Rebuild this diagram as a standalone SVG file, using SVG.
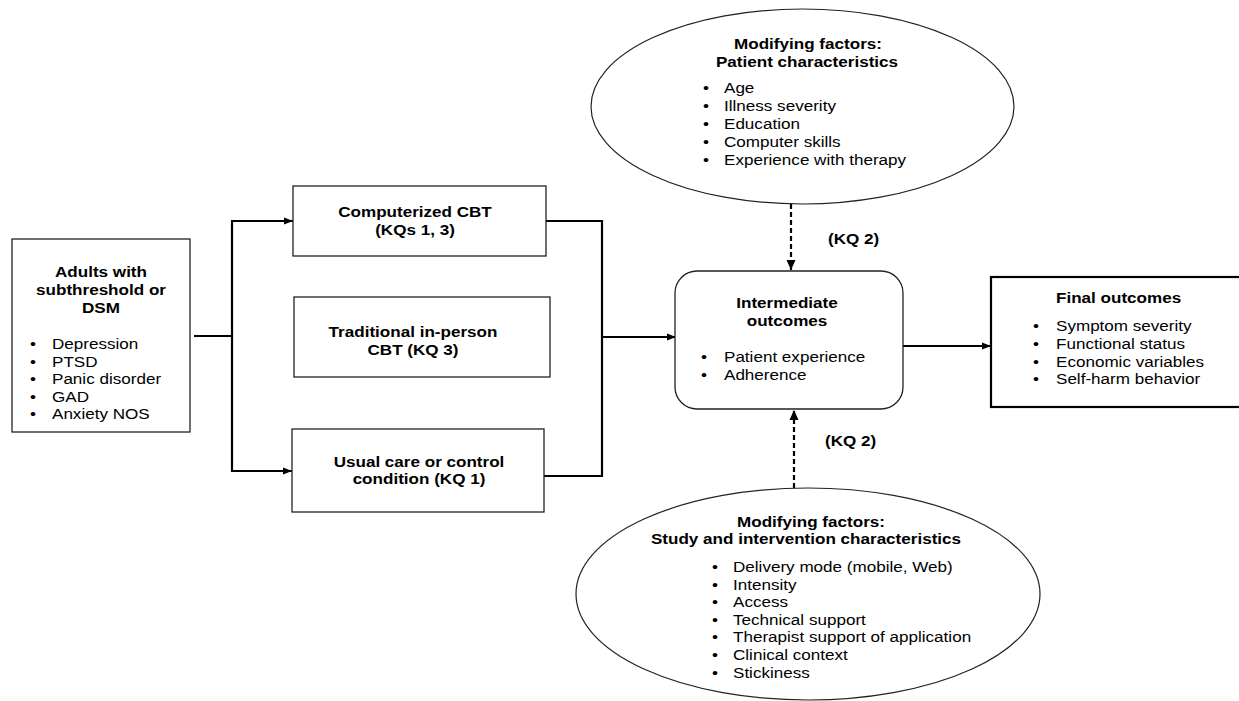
<svg xmlns="http://www.w3.org/2000/svg" width="1239" height="701" viewBox="0 0 1239 701">
<defs>
<style>
.box{fill:#fff;stroke:#222;stroke-width:1.3}
.thick{fill:#fff;stroke:#000;stroke-width:2.2}
.ell{fill:#fff;stroke:#222;stroke-width:1.2}
.con{fill:none;stroke:#000;stroke-width:2.2}
.dash{fill:none;stroke:#000;stroke-width:2.2;stroke-dasharray:5 3}
text{font-family:"Liberation Sans",Arial,sans-serif;font-size:14.6px;fill:#000}
.b{font-weight:bold}
.c{text-anchor:middle}
</style>
<marker id="arr" viewBox="0 0 10 10" refX="10" refY="5" markerWidth="9" markerHeight="9" markerUnits="userSpaceOnUse" orient="auto">
<path d="M0,1 L10,5 L0,9 z" fill="#000"/>
</marker>
<marker id="arrd" viewBox="0 0 10 10" refX="10" refY="5" markerWidth="10" markerHeight="10" markerUnits="userSpaceOnUse" orient="auto">
<path d="M0,0.5 L10,5 L0,9.5 z" fill="#000"/>
</marker>
</defs>
<rect width="1239" height="701" fill="#fff"/>

<g id="connectors">
<path class="con" d="M194,336 H232"/>
<path class="con" d="M232,221 V471"/>
<path class="con" d="M231,221 H293" marker-end="url(#arr)"/>
<path class="con" d="M231,471 H292" marker-end="url(#arr)"/>
<path class="con" d="M546,221 H602 V476 H544"/>
<path class="con" d="M602,337 H676" marker-end="url(#arr)"/>
<path class="con" d="M903,346 H991" marker-end="url(#arr)"/>
<path class="dash" d="M791,204 V270" marker-end="url(#arrd)"/>
<path class="dash" d="M794,488 V410" marker-end="url(#arrd)"/>
</g>

<g id="population">
<rect class="box" x="12" y="239" width="178" height="193"/>
<text class="b c" transform="translate(101 277) scale(1.17 1)">Adults with</text>
<text class="b c" transform="translate(101 295) scale(1.17 1)">subthreshold or</text>
<text class="b c" transform="translate(101 313) scale(1.17 1)">DSM</text>
<text transform="translate(30 349) scale(1.17 1)">•</text>
<text transform="translate(52 349) scale(1.17 1)">Depression</text>
<text transform="translate(30 366.5) scale(1.17 1)">•</text>
<text transform="translate(52 366.5) scale(1.17 1)">PTSD</text>
<text transform="translate(30 384) scale(1.17 1)">•</text>
<text transform="translate(52 384) scale(1.17 1)">Panic disorder</text>
<text transform="translate(30 401.5) scale(1.17 1)">•</text>
<text transform="translate(52 401.5) scale(1.17 1)">GAD</text>
<text transform="translate(30 419) scale(1.17 1)">•</text>
<text transform="translate(52 419) scale(1.17 1)">Anxiety NOS</text>
</g>

<g id="computerized-cbt">
<rect class="box" x="293" y="186" width="253" height="70"/>
<text class="b c" transform="translate(415 217) scale(1.17 1)">Computerized CBT</text>
<text class="b c" transform="translate(415 235) scale(1.17 1)">(KQs 1, 3)</text>
</g>

<g id="traditional-cbt">
<rect class="box" x="294" y="297" width="256" height="80"/>
<text class="b c" transform="translate(413 337) scale(1.17 1)">Traditional in-person</text>
<text class="b c" transform="translate(413 355) scale(1.17 1)">CBT (KQ 3)</text>
</g>

<g id="usual-care">
<rect class="box" x="292" y="429" width="252" height="83"/>
<text class="b c" transform="translate(419 467) scale(1.17 1)">Usual care or control</text>
<text class="b c" transform="translate(419 484) scale(1.17 1)">condition (KQ 1)</text>
</g>

<g id="intermediate-outcomes">
<rect class="box" x="675" y="271" width="228" height="138" rx="22" ry="22"/>
<text class="b c" transform="translate(787 308) scale(1.17 1)">Intermediate</text>
<text class="b c" transform="translate(787 326) scale(1.17 1)">outcomes</text>
<text transform="translate(701 362) scale(1.17 1)">•</text>
<text transform="translate(724 362) scale(1.17 1)">Patient experience</text>
<text transform="translate(701 379.5) scale(1.17 1)">•</text>
<text transform="translate(724 379.5) scale(1.17 1)">Adherence</text>
</g>

<g id="final-outcomes">
<rect class="thick" x="991" y="277" width="260" height="130"/>
<text class="b" transform="translate(1056 303) scale(1.17 1)">Final outcomes</text>
<text transform="translate(1033 331) scale(1.17 1)">•</text>
<text transform="translate(1056 331) scale(1.17 1)">Symptom severity</text>
<text transform="translate(1033 349) scale(1.17 1)">•</text>
<text transform="translate(1056 349) scale(1.17 1)">Functional status</text>
<text transform="translate(1033 366.5) scale(1.17 1)">•</text>
<text transform="translate(1056 366.5) scale(1.17 1)">Economic variables</text>
<text transform="translate(1033 384) scale(1.17 1)">•</text>
<text transform="translate(1056 384) scale(1.17 1)">Self-harm behavior</text>
</g>

<g id="patient-characteristics">
<ellipse class="ell" cx="802.5" cy="106.5" rx="211.5" ry="97.5"/>
<text class="b c" transform="translate(808 49) scale(1.17 1)">Modifying factors:</text>
<text class="b c" transform="translate(807 66.5) scale(1.17 1)">Patient characteristics</text>
<text transform="translate(703 93) scale(1.17 1)">•</text>
<text transform="translate(724 93) scale(1.17 1)">Age</text>
<text transform="translate(703 111) scale(1.17 1)">•</text>
<text transform="translate(724 111) scale(1.17 1)">Illness severity</text>
<text transform="translate(703 129) scale(1.17 1)">•</text>
<text transform="translate(724 129) scale(1.17 1)">Education</text>
<text transform="translate(703 147) scale(1.17 1)">•</text>
<text transform="translate(724 147) scale(1.17 1)">Computer skills</text>
<text transform="translate(703 165) scale(1.17 1)">•</text>
<text transform="translate(724 165) scale(1.17 1)">Experience with therapy</text>
</g>

<g id="study-characteristics">
<ellipse class="ell" cx="808" cy="594" rx="232" ry="106"/>
<text class="b c" transform="translate(811 527) scale(1.17 1)">Modifying factors:</text>
<text class="b c" transform="translate(806 544) scale(1.17 1)">Study and intervention characteristics</text>
<text transform="translate(712 572) scale(1.17 1)">•</text>
<text transform="translate(733 572) scale(1.17 1)">Delivery mode (mobile, Web)</text>
<text transform="translate(712 589.6) scale(1.17 1)">•</text>
<text transform="translate(733 589.6) scale(1.17 1)">Intensity</text>
<text transform="translate(712 607.2) scale(1.17 1)">•</text>
<text transform="translate(733 607.2) scale(1.17 1)">Access</text>
<text transform="translate(712 624.8) scale(1.17 1)">•</text>
<text transform="translate(733 624.8) scale(1.17 1)">Technical support</text>
<text transform="translate(712 642.4) scale(1.17 1)">•</text>
<text transform="translate(733 642.4) scale(1.17 1)">Therapist support of application</text>
<text transform="translate(712 660) scale(1.17 1)">•</text>
<text transform="translate(733 660) scale(1.17 1)">Clinical context</text>
<text transform="translate(712 677.6) scale(1.17 1)">•</text>
<text transform="translate(733 677.6) scale(1.17 1)">Stickiness</text>
</g>

<g id="labels">
<text class="b" transform="translate(828 244) scale(1.17 1)">(KQ 2)</text>
<text class="b" transform="translate(825 446) scale(1.17 1)">(KQ 2)</text>
</g>
</svg>
